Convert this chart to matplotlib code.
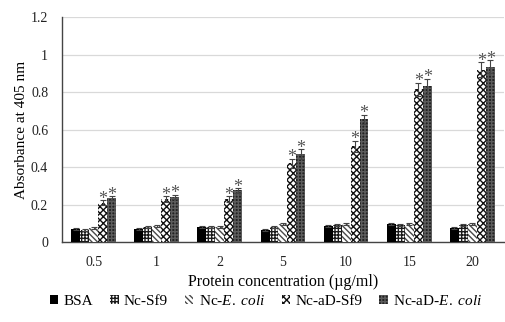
import matplotlib
matplotlib.use("Agg")
import matplotlib.pyplot as plt
import numpy as np

plt.rcParams['font.family'] = ['Liberation Serif', 'DejaVu Serif']
plt.rcParams['mathtext.fontset'] = 'custom'
plt.rcParams['mathtext.rm'] = 'Liberation Serif'
plt.rcParams['mathtext.it'] = 'Liberation Serif:italic'
plt.rcParams['hatch.linewidth'] = 1.0

categories = ['0.5', '1', '2', '5', '10', '15', '20']
series_names = ['BSA', 'Nc-Sf9', 'Nc-$\\it{E.\\ coli}$', 'Nc-aD-Sf9', 'Nc-aD-$\\it{E.\\ coli}$']
bsa = [0.070, 0.070, 0.080, 0.065, 0.085, 0.095, 0.075]
nc_sf9 = [0.065, 0.080, 0.080, 0.080, 0.090, 0.090, 0.090]
nc_ecoli = [0.075, 0.085, 0.080, 0.095, 0.095, 0.095, 0.095]
nc_ad_sf9 = [0.210, 0.230, 0.230, 0.420, 0.510, 0.815, 0.920]
nc_ad_ecoli = [0.235, 0.240, 0.275, 0.470, 0.655, 0.830, 0.935]
err_bsa = [0.004, 0.004, 0.004, 0.004, 0.004, 0.004, 0.004]
err_sf9 = [0.004, 0.005, 0.004, 0.005, 0.005, 0.005, 0.005]
err_ecoli = [0.004, 0.005, 0.005, 0.005, 0.005, 0.005, 0.005]
err_ad_sf9 = [0.012, 0.015, 0.015, 0.025, 0.030, 0.035, 0.040]
err_ad_ecoli = [0.010, 0.012, 0.012, 0.025, 0.025, 0.040, 0.035]
significant = [False, False, False, True, True]

values = [bsa, nc_sf9, nc_ecoli, nc_ad_sf9, nc_ad_ecoli]
errors = [err_bsa, err_sf9, err_ecoli, err_ad_sf9, err_ad_ecoli]
styles = [
    dict(facecolor='black', edgecolor='black', hatch=None),
    dict(facecolor='white', edgecolor='#1a1a1a', hatch='+++++'),
    dict(facecolor='white', edgecolor='#4a4a4a', hatch='\\\\\\\\\\\\'),
    dict(facecolor='white', edgecolor='#111111', hatch='xxxxx'),
    dict(facecolor='#222222', edgecolor='#5c5c5c', hatch='+++++'),
]

fig = plt.figure(figsize=(5.05, 3.22), dpi=100)
ax = fig.add_axes([0.1228, 0.2484, 0.875, 0.6986])

x = np.arange(len(categories))
w = 0.142
handles = []
for i, (vals, errs, st) in enumerate(zip(values, errors, styles)):
    pos = x + (i - 2) * w
    b = ax.bar(pos, vals, w, facecolor=st['facecolor'], edgecolor=st['edgecolor'],
               hatch=st['hatch'], linewidth=0, zorder=3)
    ax.errorbar(pos, vals, yerr=errs, fmt='none', ecolor='#444444', elinewidth=0.8,
                capsize=2.2, capthick=0.8, zorder=4)
    handles.append(b)
    if significant[i]:
        for p, v, e in zip(pos, vals, errs):
            ax.annotate('*', xy=(p, v + e), xytext=(0, -2.5), textcoords='offset points',
                        ha='center', va='baseline', fontsize=13, color='#555555', zorder=5)

ax.set_xlim(-0.5, len(categories) - 0.5)
ax.set_ylim(0, 1.2)
ax.set_yticks(np.arange(0, 1.21, 0.2))
ax.set_yticklabels(['0', '0.2', '0.4', '0.6', '0.8', '1', '1.2'])
ax.set_xticks(x)
ax.set_xticklabels(categories)
ax.tick_params(axis='both', length=0, labelsize=10, colors='#222222')
ax.tick_params(axis='x', pad=10)
ax.tick_params(axis='y', pad=10)
ax.grid(axis='y', color='#d9d9d9', linewidth=0.9, zorder=0)
for s in ['top', 'right']:
    ax.spines[s].set_visible(False)
for s in ['left', 'bottom']:
    ax.spines[s].set_color('#444444')
    ax.spines[s].set_linewidth(1.0)
ax.set_ylabel('Absorbance at 405 nm', fontsize=11, labelpad=2)
ax.set_xlabel('Protein concentration (µg/ml)', fontsize=11.5, labelpad=4)

fig.legend(handles, series_names, loc='center', bbox_to_anchor=(0.527, 0.066), ncol=5,
           frameon=False, fontsize=11, handlelength=0.55, handleheight=0.55,
           handletextpad=0.35, columnspacing=1.1)

fig.savefig('out.png', dpi=100)
